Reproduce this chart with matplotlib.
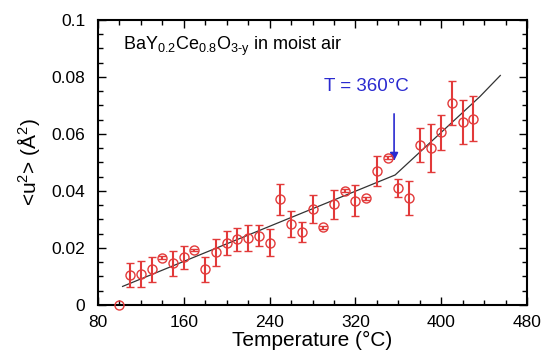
import matplotlib
matplotlib.use("Agg")
import matplotlib.pyplot as plt
from matplotlib.ticker import MultipleLocator, FixedLocator

plt.rcParams['font.family'] = ['Liberation Sans', 'DejaVu Sans']
plt.rcParams['mathtext.fontset'] = 'custom'
plt.rcParams['mathtext.rm'] = 'Liberation Sans'

# data
temps = [110, 120, 130, 140, 150, 160, 170, 180, 190, 200, 210, 220, 230, 240,
         250, 260, 270, 280, 290, 300, 310, 320, 330, 340, 350, 360, 370,
         380, 390, 400, 410, 420, 430]
u2 = [0.0105, 0.0109, 0.0125, 0.0166, 0.0146, 0.0167, 0.0193, 0.0125, 0.0185,
      0.0216, 0.0230, 0.0234, 0.0243, 0.0219, 0.0371, 0.0284, 0.0257, 0.0336,
      0.0272, 0.0353, 0.0400, 0.0366, 0.0374, 0.0470, 0.0517, 0.0410, 0.0374,
      0.0561, 0.0550, 0.0605, 0.0708, 0.0641, 0.0653]
err = [0.0041, 0.0045, 0.0044, 0.0005, 0.0044, 0.0041, 0.0005, 0.0043, 0.0047,
       0.0042, 0.0041, 0.0045, 0.0037, 0.0047, 0.0055, 0.0044, 0.0035, 0.0050,
       0.0005, 0.0050, 0.0005, 0.0055, 0.0005, 0.0053, 0.0005, 0.0033, 0.0060,
       0.0060, 0.0085, 0.0063, 0.0076, 0.0077, 0.0079]

# lone point on the axis
t0 = [100]
u0 = [0.0]

# fitted piecewise line
fit_t = [103, 357, 436, 455]
fit_u = [0.0065, 0.0456, 0.0731, 0.0805]

xticks = [80, 160, 240, 320, 400, 480]
yticks = [0, 0.02, 0.04, 0.06, 0.08, 0.1]
ylabels = ['0', '0.02', '0.04', '0.06', '0.08', '0.1']

red = '#e23a3a'
blue = '#2a2ad0'

fig = plt.figure(figsize=(5.44, 3.55), dpi=100)
ax = fig.add_axes([0.180, 0.141, 0.789, 0.803])

ax.plot(fit_t, fit_u, color='#333333', lw=0.9, zorder=2)
ax.errorbar(temps, u2, yerr=err, fmt='o', mfc='none', mec=red, ecolor=red,
            ms=6.5, mew=1.0, elinewidth=1.5, capsize=3, capthick=1.5, zorder=3)
ax.plot(t0, u0, 'o', mfc='none', mec=red, ms=6.5, mew=1.0, clip_on=False, zorder=4)

ax.set_xlim(80, 480)
ax.set_ylim(0, 0.1)
ax.xaxis.set_major_locator(FixedLocator(xticks))
ax.xaxis.set_minor_locator(MultipleLocator(20))
ax.yaxis.set_major_locator(FixedLocator(yticks))
ax.yaxis.set_minor_locator(MultipleLocator(0.005))
ax.set_xticklabels([str(t) for t in xticks])
ax.set_yticklabels(ylabels)
ax.tick_params(which='both', direction='in', top=True, right=True, labelsize=12.5)
ax.tick_params(which='major', length=6, width=1)
ax.tick_params(which='minor', length=3.5, width=1)
ax.tick_params(axis='x', pad=7)
ax.tick_params(axis='y', pad=9)
for s in ax.spines.values():
    s.set_linewidth(1.5)

ax.set_xlabel('Temperature (°C)', fontsize=15, labelpad=1)
ax.set_ylabel(r'<u$\mathregular{^2}$> (Å$\mathregular{^2}$)', fontsize=15, labelpad=7)

ax.text(103, 0.0895, r'BaY$\mathregular{_{0.2}}$Ce$\mathregular{_{0.8}}$O$\mathregular{_{3\text{-}y}}$ in moist air',
        fontsize=13, ha='left', va='baseline')
ax.annotate('', xy=(356, 0.0495), xytext=(356, 0.0680),
            arrowprops=dict(arrowstyle='-|>', color=blue, lw=1.2, mutation_scale=12))
ax.text(330, 0.0768, 'T = 360°C', color=blue, fontsize=13.5, ha='center', va='center')

fig.savefig('out.png', dpi=100)
